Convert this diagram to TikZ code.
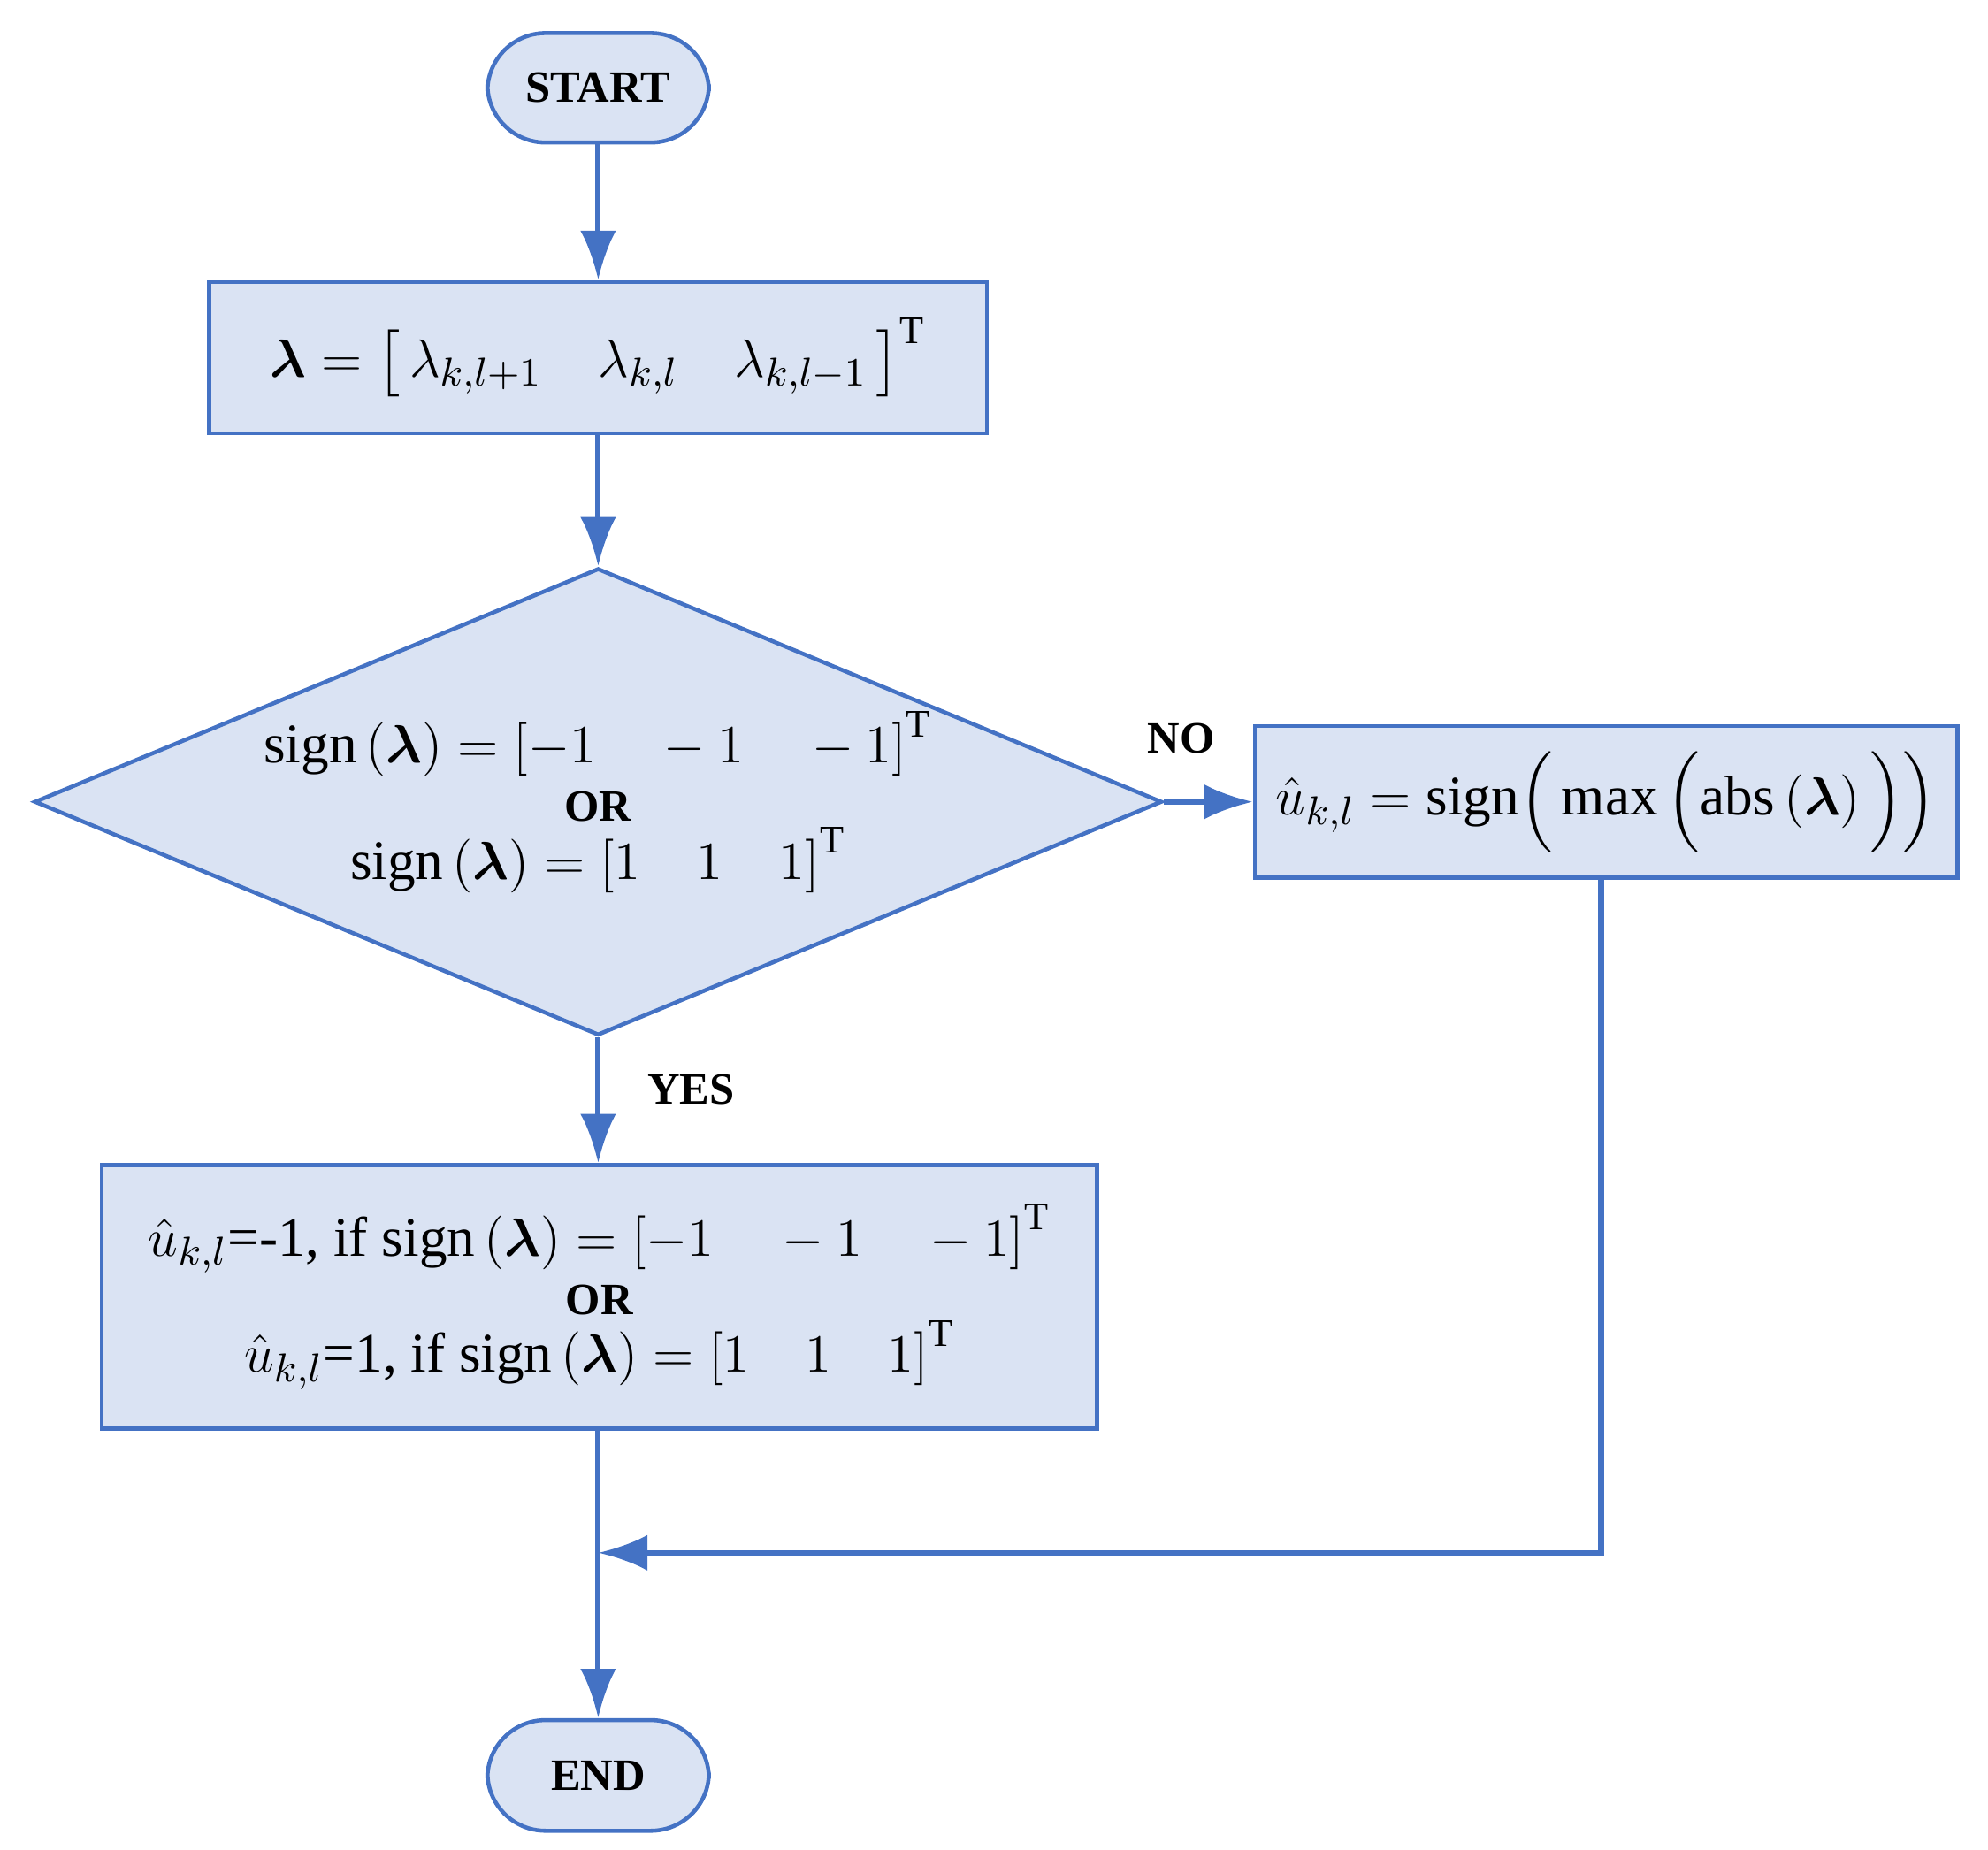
\documentclass[tikz,border=0pt]{standalone}
\usepackage{amsmath,amssymb,bm}
\usepackage{fontspec}
\setmainfont{Liberation Serif}
\usetikzlibrary{shapes.geometric,arrows.meta}
\definecolor{ln}{RGB}{68,114,196}
\definecolor{fl}{RGB}{218,227,243}
\begin{document}
\begin{tikzpicture}[x=0.1mm,y=-0.1mm,
  box/.style={draw=ln,fill=fl,line width=0.9pt,inner sep=0pt},
  term/.style={box,rounded corners=14pt,minimum width=174\pgflinewidth,font=\fontsize{10}{12}\selectfont\bfseries},
  arr/.style={draw=ln,line width=1.2pt,-{Latex[length=11pt,width=8pt]}},
  ln/.style={draw=ln,line width=1.2pt},
  lab/.style={font=\fontsize{10}{12}\selectfont\bfseries},
  every node/.append style={font=\fontsize{12.5}{15}\selectfont}]
\useasboundingbox (0,0) rectangle (1562,1453);
\node[box,rounded corners=13pt,minimum width=17.4mm,minimum height=8.6mm,font=\fontsize{10}{12}\selectfont\bfseries] (start) at (470,69) {START};
\node[box,minimum width=61.1mm,minimum height=11.9mm] (b1) at (470,281)
 {$\bm{\lambda}=\left[\,\lambda_{k,l+1}\quad\lambda_{k,l}\quad\lambda_{k,l-1}\,\right]^{\mathrm{T}}$};
\node[box,diamond,aspect=2.414,minimum width=88.6mm,minimum height=36.7mm,inner sep=0pt] (d) at (470,630) {};
\node[align=center] at (470,630) {$\mathrm{sign}\left(\bm{\lambda}\right)=\left[-1\quad-1\quad-1\right]^{\mathrm{T}}$\\[-2pt]
 {\fontsize{10}{12}\selectfont\bfseries OR}\\[-2pt]
 $\mathrm{sign}\left(\bm{\lambda}\right)=\left[1\quad1\quad1\right]^{\mathrm{T}}$};
\node[box,minimum width=55.2mm,minimum height=11.9mm] (no) at (1262,630)
 {$\hat{u}_{k,l}=\mathrm{sign}\Big(\max\Big(\mathrm{abs}\left(\bm{\lambda}\right)\Big)\Big)$};
\node[box,minimum width=78.2mm,minimum height=20.7mm,align=center] (yes) at (471,1019)
 {$\hat{u}_{k,l}$=-1, if $\mathrm{sign}\left(\bm{\lambda}\right)=\left[-1\quad-1\quad-1\right]^{\mathrm{T}}$\\[-2pt]
 {\fontsize{10}{12}\selectfont\bfseries OR}\\[-2pt]
 $\hat{u}_{k,l}$=1, if $\mathrm{sign}\left(\bm{\lambda}\right)=\left[1\quad1\quad1\right]^{\mathrm{T}}$};
\node[box,rounded corners=13pt,minimum width=17.4mm,minimum height=8.7mm,font=\fontsize{10}{12}\selectfont\bfseries] (end) at (470,1395) {END};
\coordinate (m) at (470,1220);
\coordinate (c) at (1258,1220);
\draw[arr] (start) -- (b1);
\draw[arr] (b1) -- (d.north);
\draw[arr] (d.east) -- (no.west);
\draw[arr] (d.south) -- (yes.north -| d.south);
\draw[arr] (yes.south -| end.north) -- (end.north);
\draw[ln,-{Latex[length=11pt,width=8pt]}] (no.south -| c) -- (c) -- (m);
\node[lab] at (928,580) {NO};
\node[lab] at (543,856) {YES};
\end{tikzpicture}
\end{document}
